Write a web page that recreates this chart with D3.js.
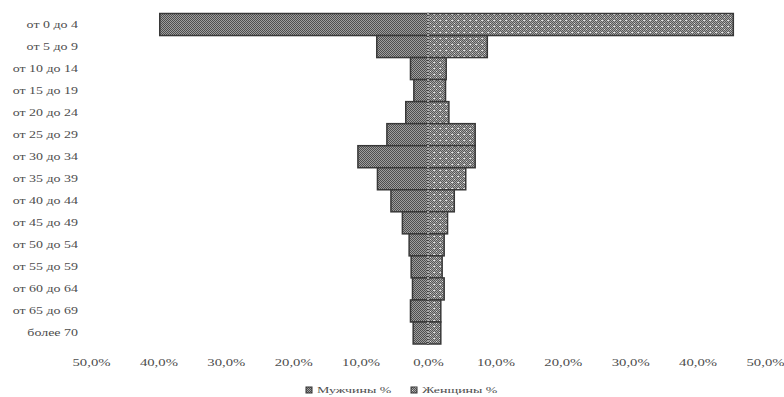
<!DOCTYPE html>
<html>
<head>
<meta charset="utf-8">
<script src="https://cdn.jsdelivr.net/npm/d3@7"></script>
<style>
  html, body { margin: 0; padding: 0; background: #fff; }
  svg { display: block; }
  text { font-family: "Liberation Serif", "Times New Roman", serif; fill: #4d4d4d; }
</style>
</head>
<body>
<svg id="chart" width="784" height="397"></svg>
<script>
// Age groups, top to bottom
const ageGroups = [
  "от 0 до 4", "от 5 до 9", "от 10 до 14", "от 15 до 19", "от 20 до 24",
  "от 25 до 29", "от 30 до 34", "от 35 до 39", "от 40 до 44", "от 45 до 49",
  "от 50 до 54", "от 55 до 59", "от 60 до 64", "от 65 до 69", "более 70"
];
// Share of each age group, percent
const menPct   = [39.8, 7.6, 2.6, 2.1, 3.3, 6.1, 10.4, 7.5, 5.5, 3.8, 2.8, 2.5, 2.3, 2.6, 2.2];
const womenPct = [45.3, 8.8, 2.7, 2.6, 3.1, 7.0, 7.0, 5.6, 3.9, 2.9, 2.4, 2.1, 2.4, 1.9, 1.9];
const seriesNames = ["Мужчины %", "Женщины %"];
const tickValues = [-50, -40, -30, -20, -10, 0, 10, 20, 30, 40, 50];

const svg = d3.select("#chart");
const fmt = v => d3.format(".1f")(Math.abs(v)).replace(".", ",") + "%";

// Fill patterns
const defs = svg.append("defs");
const pm = defs.append("pattern").attr("id", "patMen")
  .attr("width", 2).attr("height", 2).attr("patternUnits", "userSpaceOnUse");
pm.append("rect").attr("width", 2).attr("height", 2).attr("fill", "#9e9e9e");
pm.append("rect").attr("width", 1).attr("height", 1).attr("fill", "#4e4e4e");
pm.append("rect").attr("x", 1).attr("y", 1).attr("width", 1).attr("height", 1).attr("fill", "#4e4e4e");

const pw = defs.append("pattern").attr("id", "patWomen")
  .attr("width", 6).attr("height", 6).attr("patternUnits", "userSpaceOnUse");
pw.append("rect").attr("width", 6).attr("height", 6).attr("fill", "#a6a6a6");
for (let i = 0; i < 6; i++) for (let j = 0; j < 6; j++) {
  if ((i + j) % 2 === 0) pw.append("rect").attr("x", i).attr("y", j).attr("width", 1).attr("height", 1).attr("fill", "#585858");
}
pw.append("rect").attr("x", 1).attr("y", 2).attr("width", 2).attr("height", 1).attr("fill", "#e0e0e0");
pw.append("rect").attr("x", 4).attr("y", 5).attr("width", 1).attr("height", 1).attr("fill", "#e0e0e0");

const x = d3.scaleLinear().domain([-50, 50]).range([91, 765]);
const y = d3.scaleBand().domain(ageGroups).range([13.5, 344]).padding(0);

const rows = ageGroups.map((g, i) => ({ g, men: menPct[i], women: womenPct[i] }));

// Men (left)
svg.append("g").selectAll("rect").data(rows).join("rect")
  .attr("x", d => x(-d.men))
  .attr("y", d => y(d.g))
  .attr("width", d => x(0) - x(-d.men))
  .attr("height", y.bandwidth())
  .attr("fill", "url(#patMen)")
  .attr("stroke", "#383838").attr("stroke-width", 1.5);

// Women (right)
svg.append("g").selectAll("rect").data(rows).join("rect")
  .attr("x", x(0))
  .attr("y", d => y(d.g))
  .attr("width", d => x(d.women) - x(0))
  .attr("height", y.bandwidth())
  .attr("fill", "url(#patWomen)")
  .attr("stroke", "#383838").attr("stroke-width", 1.5);

// Zero line
svg.append("line")
  .attr("x1", x(0)).attr("x2", x(0))
  .attr("y1", 13).attr("y2", 344)
  .attr("stroke", "#e6e6e6").attr("stroke-width", 1.2)
  .attr("stroke-dasharray", "2,1");

// Category labels, right-aligned against the plot
const catG = svg.append("g").selectAll("g").data(ageGroups).join("g")
  .attr("transform", d => `translate(78,${y(d) + y.bandwidth() / 2 + 3.5})`);
catG.append("text")
  .attr("text-anchor", "end")
  .attr("transform", "scale(1.47,1)")
  .attr("font-size", 9.5)
  .text(d => d);

// Bottom axis labels
const xAxis = d3.axisBottom(x).tickValues(tickValues).tickFormat(fmt).tickSize(0);
const ax = svg.append("g").attr("transform", "translate(0,358)").call(xAxis);
ax.select(".domain").remove();
ax.selectAll(".tick text")
  .attr("font-family", "Liberation Serif, serif")
  .attr("font-size", 9.5)
  .attr("fill", "#4d4d4d")
  .attr("dy", 0)
  .attr("y", 7.5)
  .attr("transform", "scale(1.55,1)");

// Legend
const legend = svg.append("g").attr("transform", "translate(0,391)");
const legendX = [306, 411];
seriesNames.forEach((name, i) => {
  legend.append("rect")
    .attr("x", legendX[i]).attr("y", -4)
    .attr("width", 6).attr("height", 6)
    .attr("fill", i === 0 ? "url(#patMen)" : "url(#patWomen)")
    .attr("stroke", "#333").attr("stroke-width", 1);
  legend.append("g")
    .attr("transform", `translate(${legendX[i] + 11},2)`)
    .append("text")
    .attr("transform", "scale(1.55,1)")
    .attr("font-size", 9)
    .text(name);
});
</script>
</body>
</html>
